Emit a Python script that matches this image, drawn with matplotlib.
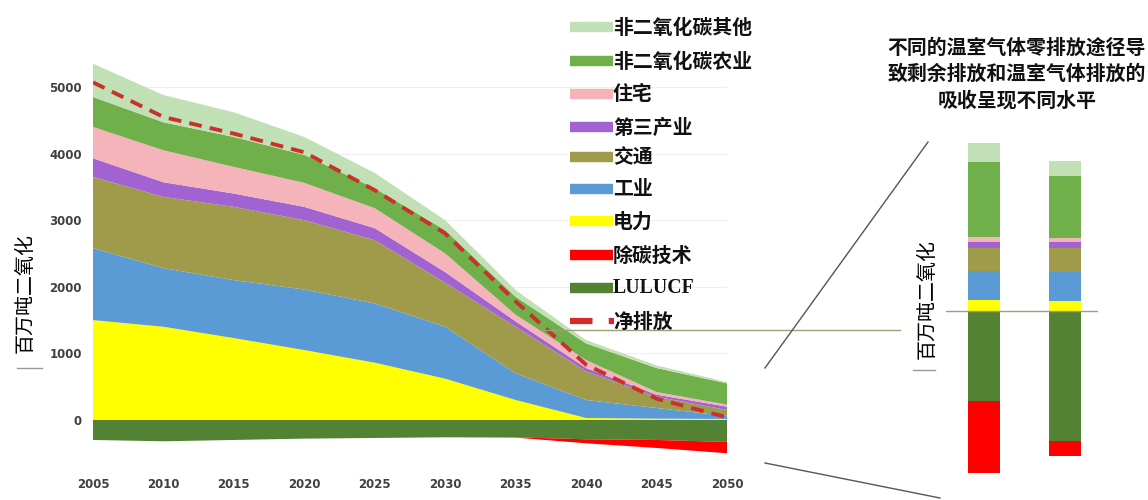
import matplotlib
matplotlib.use('Agg')
import matplotlib.pyplot as plt
import numpy as np
from matplotlib.lines import Line2D

plt.rcParams['font.family'] = ['Noto Sans CJK SC', 'DejaVu Sans']

# ---------------- data ----------------
years = [2005, 2010, 2015, 2020, 2025, 2030, 2035, 2040, 2045, 2050]

# 正排放 (百万吨二氧化碳当量), 由下至上
power       = [1500, 1400, 1230, 1050, 860, 620, 300, 30, 20, 15]
industry    = [1080, 880, 870, 910, 890, 780, 400, 270, 160, 45]
transport   = [1070, 1070, 1100, 1040, 950, 660, 700, 430, 170, 90]
tertiary    = [280, 220, 200, 200, 180, 160, 80, 50, 30, 50]
residential = [470, 480, 400, 360, 300, 280, 100, 120, 40, 30]
nonco2_agri = [450, 420, 450, 420, 300, 350, 270, 250, 360, 320]
nonco2_other = [500, 410, 370, 270, 230, 150, 100, 50, 40, 20]

# 负排放
lulucf  = [-300, -320, -300, -280, -270, -260, -260, -290, -300, -330]
removal = [0, 0, 0, 0, 0, 0, -5, -60, -120, -170]

net = [5070, 4550, 4300, 4020, 3450, 2800, 1780, 830, 320, 40]

# 右侧两条途径 (相对值)
bar_power       = [110, 100]
bar_industry    = [290, 290]
bar_transport   = [230, 240]
bar_tertiary    = [60, 60]
bar_residential = [50, 40]
bar_agri        = [750, 620]
bar_other       = [190, 150]
bar_lulucf      = [-900, -1300]
bar_removal     = [-720, -150]

labels = ['非二氧化碳其他', '非二氧化碳农业', '住宅', '第三产业', '交通',
          '工业', '电力', '除碳技术', 'LULUCF', '净排放']
colors = ['#c2e0b5', '#70b04a', '#f5b3ba', '#a163d2', '#a09a4b',
          '#5b9bd5', '#ffff00', '#ff0000', '#548235', '#d42a2a']

c_other, c_agri, c_res, c_ter, c_tra, c_ind, c_pow, c_rem, c_lul, c_net = colors

W, H = 1148, 500
fig = plt.figure(figsize=(W / 100, H / 100), dpi=100)


def fx(x):
    return x / W


def fy(y):
    return 1 - y / H


# ---------------- left stacked area ----------------
ax = fig.add_axes([fx(93), fy(470), (727 - 93) / W, (470 - 40) / H])
ax.stackplot(years, power, industry, transport, tertiary, residential,
             nonco2_agri, nonco2_other,
             colors=[c_pow, c_ind, c_tra, c_ter, c_res, c_agri, c_other], lw=0)
ax.stackplot(years, lulucf, removal, colors=[c_lul, c_rem], lw=0)
ax.plot(years, net, color='#c8322a', lw=2.8, linestyle=(0, (3.3, 2.1)))

ax.set_xlim(2005, 2050)
ax.set_ylim(-751, 5706)
ax.set_xticks(years)
ax.set_yticks([0, 1000, 2000, 3000, 4000, 5000])
ax.tick_params(length=0, labelsize=8.5, labelcolor='#404040')
ax.tick_params(axis='y', pad=8)
ax.tick_params(axis='x', pad=6)
for t in ax.get_xticklabels() + ax.get_yticklabels():
    t.set_fontweight('bold')
    t.set_family('Liberation Sans Narrow')
for s in ax.spines.values():
    s.set_visible(False)
ax.set_axisbelow(True)
ax.grid(axis='y', color='#efefef', lw=0.8)

fig.text(fx(25), fy(293), '百万吨二氧化', rotation=90, ha='center', va='center',
         fontsize=14.4)
fig.add_artist(Line2D([fx(17), fx(42)], [fy(368), fy(368)], color='#999999', lw=1))

# ---------------- legend ----------------
leg_y = [27, 61, 94, 127, 157, 189, 221, 255, 288, 321]
for i, (lab, col) in enumerate(zip(labels, colors)):
    y = fy(leg_y[i])
    if lab == '净排放':
        fig.add_artist(Line2D([fx(570), fx(614)], [y, y], color=col, lw=4.5,
                              linestyle=(0, (3.6, 2.6))))
    else:
        fig.add_artist(Line2D([fx(570), fx(613)], [y, y], color=col, lw=7.5,
                              solid_capstyle='butt'))
    fam = ['Liberation Serif', 'Noto Sans CJK SC'] if lab.isascii() else ['Noto Sans CJK SC']
    fig.text(fx(613), y, lab, ha='left', va='center', fontsize=14.3,
             fontweight='bold', family=fam, color='#111111')

# ---------------- connectors ----------------
line_c = '#a49d7a'
fig.add_artist(Line2D([fx(540), fx(900)], [fy(330), fy(330)], color=line_c, lw=1))
fig.add_artist(Line2D([fx(765), fx(928)], [fy(368), fy(142)], color='#555555', lw=1))
fig.add_artist(Line2D([fx(765), fx(940)], [fy(463), fy(498)], color='#555555', lw=1))

# ---------------- right bars ----------------
ax2 = fig.add_axes([fx(946), fy(480), (1098 - 946) / W, (480 - 130) / H])
xb = np.array([0, 1])
bw = 0.395
bottom = np.zeros(2)
for vals, col in [(bar_power, c_pow), (bar_industry, c_ind), (bar_transport, c_tra),
                  (bar_tertiary, c_ter), (bar_residential, c_res),
                  (bar_agri, c_agri), (bar_other, c_other)]:
    ax2.bar(xb, vals, bw, bottom=bottom, color=col, lw=0)
    bottom += np.array(vals)
nbottom = np.zeros(2)
for vals, col in [(bar_lulucf, c_lul), (bar_removal, c_rem)]:
    ax2.bar(xb, vals, bw, bottom=nbottom, color=col, lw=0)
    nbottom += np.array(vals)
ax2.axhline(0, color=line_c, lw=1)
ax2.set_xlim(-0.469, 1.407)
ax2.set_ylim(-1690, 1810)
ax2.axis('off')

fig.text(fx(927), fy(299), '百万吨二氧化', rotation=90, ha='center', va='center',
         fontsize=14.4)
fig.add_artist(Line2D([fx(913), fx(935)], [fy(370), fy(370)], color='#999999', lw=1))

title_lines = ['不同的温室气体零排放途径导', '致剩余排放和温室气体排放的', '吸收呈现不同水平']
for i, t in enumerate(title_lines):
    fig.text(fx(1017), fy(47 + 26.5 * i), t, ha='center', va='center',
             fontsize=14.3, fontweight='bold', color='#111111')

fig.savefig('out.png', dpi=100)
